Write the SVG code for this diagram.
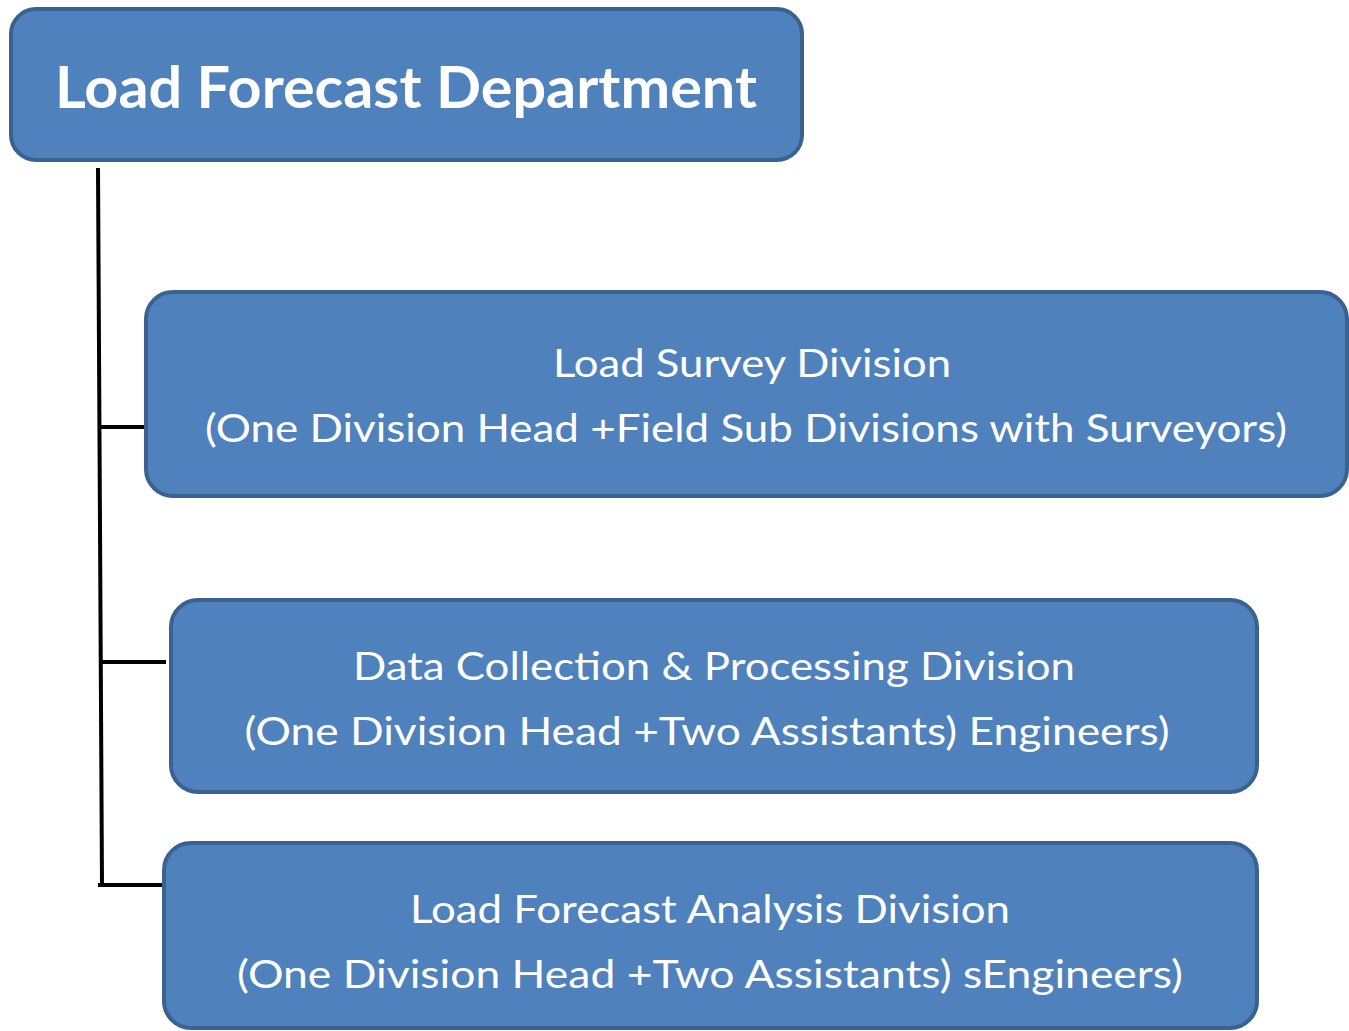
<svg xmlns="http://www.w3.org/2000/svg" width="1349" height="1031" viewBox="0 0 1349 1031">
<style>
.box{fill:#4f81bd;stroke:#3b6190;stroke-width:4}
.t{fill:#ffffff;font-family:Lato,"Open Sans","Liberation Sans",sans-serif;text-anchor:middle}
.title{font-size:57px;font-weight:bold}
.body{font-size:38px}
.conn{stroke:#000;stroke-width:4;fill:none}
</style>
<rect width="1349" height="1031" fill="#ffffff"/>
<g id="connectors">
<line class="conn" x1="98" y1="168" x2="102" y2="885"/>
<line class="conn" x1="100" y1="427" x2="146" y2="427"/>
<line class="conn" x1="100" y1="662" x2="166" y2="662"/>
<line class="conn" x1="98" y1="885" x2="165" y2="885"/>
</g>
<g id="node-dept">
<rect class="box" x="11" y="9" width="791" height="151" rx="25" ry="25"/>
<text class="t title" x="406" y="108" textLength="702" lengthAdjust="spacingAndGlyphs">Load Forecast Department</text>
</g>
<g id="node-survey">
<rect class="box" x="146" y="292" width="1201" height="204" rx="27" ry="27"/>
<text class="t body" x="752" y="377" textLength="398" lengthAdjust="spacingAndGlyphs">Load Survey Division</text>
<text class="t body" x="746" y="442" textLength="1082" lengthAdjust="spacingAndGlyphs">(One Division Head +Field Sub Divisions with Surveyors)</text>
</g>
<g id="node-data">
<rect class="box" x="171" y="600" width="1086" height="192" rx="27" ry="27"/>
<text class="t body" x="714" y="680" textLength="722" lengthAdjust="spacingAndGlyphs">Data Collection &amp; Processing Division</text>
<text class="t body" x="707" y="745" textLength="925" lengthAdjust="spacingAndGlyphs">(One Division Head +Two Assistants) Engineers)</text>
</g>
<g id="node-analysis">
<rect class="box" x="164" y="843" width="1093" height="185" rx="27" ry="27"/>
<text class="t body" x="710" y="923" textLength="600" lengthAdjust="spacingAndGlyphs">Load Forecast Analysis Division</text>
<text class="t body" x="710" y="988" textLength="946" lengthAdjust="spacingAndGlyphs">(One Division Head +Two Assistants) sEngineers)</text>
</g>
</svg>
